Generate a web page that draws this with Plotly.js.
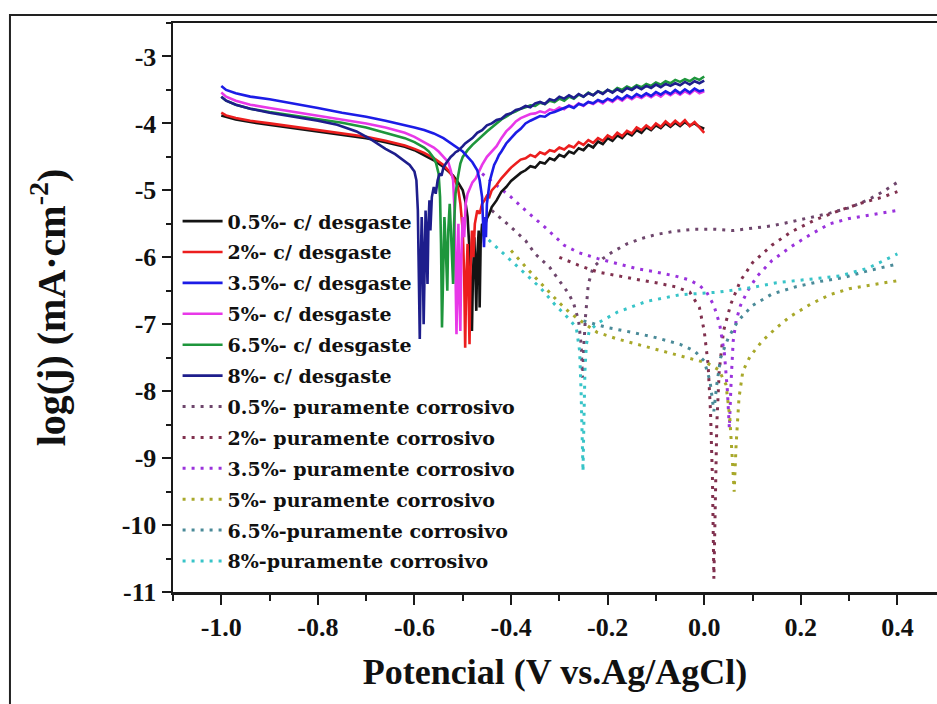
<!DOCTYPE html>
<html>
<head>
<meta charset="utf-8">
<script src="https://cdn.plot.ly/plotly-3.0.1.min.js"></script>
<style>
  html, body { margin: 0; padding: 0; background: #fff; }
  #chart { width: 937px; height: 704px; }
</style>
</head>
<body>
<div id="chart"></div>
<script>
// Polarization curves: [potential (V vs Ag/AgCl), log(j)]
// --- with wear (c/ desgaste) ---
const wear05 = [[-1.0,-3.88],[-0.99,-3.9],[-0.97,-3.94],[-0.94,-3.98],[-0.9,-4.02],[-0.85,-4.07],[-0.8,-4.12],[-0.75,-4.17],[-0.7,-4.22],[-0.66,-4.28],[-0.62,-4.35],[-0.6,-4.4],[-0.58,-4.47],[-0.56,-4.55],[-0.54,-4.65],[-0.52,-4.78],[-0.51,-4.88],[-0.5,-5.0],[-0.495,-5.15],[-0.49,-5.4],[-0.486,-5.9],[-0.483,-6.5],[-0.481,-7.1],[-0.479,-6.3],[-0.476,-5.7],[-0.474,-6.2],[-0.472,-6.8],[-0.47,-6.0],[-0.467,-5.6],[-0.465,-6.75],[-0.463,-5.8],[-0.46,-5.5],[-0.455,-5.55],[-0.45,-5.42],[-0.445,-5.35],[-0.44,-5.25],[-0.43,-5.15],[-0.42,-5.02],[-0.41,-4.95],[-0.4,-4.86],[-0.39,-4.8],[-0.38,-4.74],[-0.37,-4.7],[-0.36,-4.64],[-0.35,-4.66],[-0.34,-4.58],[-0.33,-4.6],[-0.32,-4.52],[-0.31,-4.55],[-0.3,-4.47],[-0.29,-4.5],[-0.28,-4.42],[-0.27,-4.45],[-0.26,-4.37],[-0.25,-4.4],[-0.24,-4.32],[-0.23,-4.36],[-0.22,-4.27],[-0.21,-4.31],[-0.2,-4.22],[-0.19,-4.26],[-0.18,-4.18],[-0.17,-4.22],[-0.16,-4.14],[-0.15,-4.18],[-0.14,-4.1],[-0.13,-4.14],[-0.12,-4.06],[-0.11,-4.1],[-0.1,-4.03],[-0.09,-4.07],[-0.08,-4.0],[-0.07,-4.05],[-0.06,-3.99],[-0.05,-4.04],[-0.04,-3.98],[-0.03,-4.03],[-0.02,-4.0],[-0.01,-4.05],[0.0,-4.08]];
const wear2 = [[-1.0,-3.84],[-0.99,-3.88],[-0.97,-3.92],[-0.94,-3.96],[-0.9,-4.0],[-0.85,-4.05],[-0.8,-4.1],[-0.75,-4.15],[-0.7,-4.2],[-0.66,-4.26],[-0.62,-4.33],[-0.6,-4.38],[-0.58,-4.44],[-0.56,-4.52],[-0.54,-4.62],[-0.53,-4.7],[-0.52,-4.8],[-0.51,-4.95],[-0.505,-5.2],[-0.5,-5.6],[-0.497,-6.3],[-0.495,-7.35],[-0.493,-6.4],[-0.49,-5.8],[-0.488,-6.6],[-0.486,-7.3],[-0.484,-6.2],[-0.481,-5.6],[-0.478,-6.0],[-0.475,-5.5],[-0.47,-5.3],[-0.465,-5.35],[-0.46,-5.2],[-0.455,-5.15],[-0.45,-5.08],[-0.445,-5.1],[-0.44,-5.0],[-0.43,-4.92],[-0.42,-4.82],[-0.41,-4.74],[-0.4,-4.66],[-0.39,-4.6],[-0.38,-4.54],[-0.37,-4.52],[-0.36,-4.47],[-0.35,-4.5],[-0.34,-4.43],[-0.33,-4.46],[-0.32,-4.4],[-0.31,-4.42],[-0.3,-4.36],[-0.29,-4.39],[-0.28,-4.33],[-0.27,-4.36],[-0.26,-4.28],[-0.25,-4.32],[-0.24,-4.25],[-0.23,-4.29],[-0.22,-4.22],[-0.21,-4.26],[-0.2,-4.18],[-0.19,-4.22],[-0.18,-4.14],[-0.17,-4.19],[-0.16,-4.11],[-0.15,-4.15],[-0.14,-4.06],[-0.13,-4.1],[-0.12,-4.03],[-0.11,-4.08],[-0.1,-4.0],[-0.09,-4.05],[-0.08,-3.97],[-0.07,-4.03],[-0.06,-3.96],[-0.05,-4.02],[-0.04,-3.95],[-0.03,-4.04],[-0.02,-3.98],[-0.01,-4.06],[0.0,-4.14]];
const wear35 = [[-1.0,-3.44],[-0.99,-3.5],[-0.97,-3.55],[-0.94,-3.6],[-0.9,-3.64],[-0.85,-3.7],[-0.8,-3.77],[-0.75,-3.84],[-0.7,-3.9],[-0.66,-3.96],[-0.62,-4.02],[-0.6,-4.06],[-0.58,-4.1],[-0.56,-4.15],[-0.54,-4.22],[-0.52,-4.32],[-0.5,-4.42],[-0.49,-4.5],[-0.48,-4.58],[-0.47,-4.7],[-0.465,-4.85],[-0.46,-5.1],[-0.458,-5.5],[-0.456,-5.85],[-0.454,-5.4],[-0.452,-5.7],[-0.45,-5.2],[-0.447,-5.0],[-0.444,-4.86],[-0.44,-4.75],[-0.435,-4.62],[-0.43,-4.55],[-0.425,-4.47],[-0.42,-4.42],[-0.41,-4.3],[-0.4,-4.22],[-0.39,-4.14],[-0.38,-4.08],[-0.37,-4.0],[-0.36,-3.96],[-0.35,-3.92],[-0.34,-3.89],[-0.33,-3.9],[-0.32,-3.85],[-0.31,-3.83],[-0.3,-3.8],[-0.29,-3.78],[-0.28,-3.74],[-0.27,-3.77],[-0.26,-3.71],[-0.25,-3.73],[-0.24,-3.68],[-0.23,-3.7],[-0.22,-3.65],[-0.21,-3.68],[-0.2,-3.63],[-0.19,-3.66],[-0.18,-3.6],[-0.17,-3.64],[-0.16,-3.58],[-0.15,-3.62],[-0.14,-3.56],[-0.13,-3.6],[-0.12,-3.55],[-0.11,-3.59],[-0.1,-3.53],[-0.09,-3.57],[-0.08,-3.52],[-0.07,-3.56],[-0.06,-3.5],[-0.05,-3.55],[-0.04,-3.49],[-0.03,-3.54],[-0.02,-3.48],[-0.01,-3.52],[0.0,-3.5]];
const wear5 = [[-1.0,-3.54],[-0.99,-3.6],[-0.97,-3.66],[-0.94,-3.72],[-0.9,-3.77],[-0.85,-3.83],[-0.8,-3.88],[-0.75,-3.94],[-0.7,-4.0],[-0.66,-4.06],[-0.62,-4.14],[-0.6,-4.2],[-0.58,-4.28],[-0.56,-4.36],[-0.55,-4.42],[-0.54,-4.5],[-0.53,-4.58],[-0.525,-4.7],[-0.52,-4.85],[-0.517,-5.3],[-0.515,-6.0],[-0.513,-7.15],[-0.511,-6.2],[-0.509,-5.5],[-0.507,-6.6],[-0.505,-7.1],[-0.503,-6.0],[-0.5,-5.4],[-0.497,-5.7],[-0.494,-5.2],[-0.49,-5.05],[-0.485,-4.95],[-0.48,-4.88],[-0.473,-4.82],[-0.465,-4.7],[-0.46,-4.62],[-0.45,-4.5],[-0.44,-4.42],[-0.43,-4.34],[-0.42,-4.22],[-0.41,-4.12],[-0.4,-4.05],[-0.39,-3.97],[-0.38,-3.92],[-0.37,-3.89],[-0.36,-3.86],[-0.35,-3.85],[-0.34,-3.82],[-0.33,-3.84],[-0.32,-3.79],[-0.31,-3.81],[-0.3,-3.76],[-0.29,-3.79],[-0.28,-3.73],[-0.27,-3.76],[-0.26,-3.7],[-0.25,-3.74],[-0.24,-3.68],[-0.23,-3.71],[-0.22,-3.66],[-0.21,-3.7],[-0.2,-3.64],[-0.19,-3.68],[-0.18,-3.62],[-0.17,-3.66],[-0.16,-3.6],[-0.15,-3.64],[-0.14,-3.59],[-0.13,-3.62],[-0.12,-3.57],[-0.11,-3.61],[-0.1,-3.56],[-0.09,-3.6],[-0.08,-3.54],[-0.07,-3.58],[-0.06,-3.53],[-0.05,-3.57],[-0.04,-3.52],[-0.03,-3.56],[-0.02,-3.5],[-0.01,-3.55],[0.0,-3.52]];
const wear65 = [[-1.0,-3.6],[-0.99,-3.66],[-0.97,-3.72],[-0.94,-3.78],[-0.9,-3.83],[-0.85,-3.88],[-0.8,-3.93],[-0.75,-3.99],[-0.7,-4.06],[-0.66,-4.14],[-0.62,-4.22],[-0.6,-4.28],[-0.58,-4.36],[-0.57,-4.42],[-0.56,-4.52],[-0.555,-4.6],[-0.55,-4.75],[-0.547,-5.1],[-0.545,-5.8],[-0.543,-7.05],[-0.541,-6.1],[-0.538,-5.4],[-0.535,-5.9],[-0.532,-6.5],[-0.53,-5.6],[-0.527,-5.2],[-0.524,-5.7],[-0.52,-6.4],[-0.518,-5.5],[-0.515,-5.05],[-0.51,-4.8],[-0.505,-4.6],[-0.5,-4.5],[-0.49,-4.4],[-0.48,-4.32],[-0.47,-4.25],[-0.46,-4.18],[-0.45,-4.12],[-0.44,-4.06],[-0.43,-4.0],[-0.42,-3.94],[-0.41,-3.9],[-0.4,-3.85],[-0.39,-3.82],[-0.38,-3.78],[-0.37,-3.76],[-0.36,-3.73],[-0.35,-3.74],[-0.34,-3.69],[-0.33,-3.71],[-0.32,-3.66],[-0.31,-3.68],[-0.3,-3.63],[-0.29,-3.66],[-0.28,-3.6],[-0.27,-3.63],[-0.26,-3.57],[-0.25,-3.6],[-0.24,-3.54],[-0.23,-3.58],[-0.22,-3.52],[-0.21,-3.55],[-0.2,-3.5],[-0.19,-3.53],[-0.18,-3.47],[-0.17,-3.5],[-0.16,-3.45],[-0.15,-3.48],[-0.14,-3.43],[-0.13,-3.46],[-0.12,-3.41],[-0.11,-3.44],[-0.1,-3.39],[-0.09,-3.42],[-0.08,-3.37],[-0.07,-3.4],[-0.06,-3.35],[-0.05,-3.38],[-0.04,-3.34],[-0.03,-3.37],[-0.02,-3.32],[-0.01,-3.35],[0.0,-3.3]];
const wear8 = [[-1.0,-3.6],[-0.99,-3.66],[-0.97,-3.72],[-0.94,-3.78],[-0.9,-3.84],[-0.85,-3.9],[-0.8,-3.96],[-0.76,-4.02],[-0.72,-4.12],[-0.69,-4.24],[-0.66,-4.38],[-0.64,-4.46],[-0.62,-4.56],[-0.61,-4.62],[-0.6,-4.72],[-0.596,-4.85],[-0.593,-5.3],[-0.591,-6.2],[-0.589,-7.22],[-0.587,-6.1],[-0.585,-5.4],[-0.583,-5.9],[-0.581,-7.0],[-0.579,-6.2],[-0.577,-5.3],[-0.575,-5.8],[-0.573,-6.4],[-0.571,-5.5],[-0.569,-5.15],[-0.567,-5.6],[-0.564,-5.1],[-0.56,-4.95],[-0.556,-5.05],[-0.552,-4.85],[-0.548,-4.75],[-0.544,-4.78],[-0.54,-4.66],[-0.535,-4.6],[-0.53,-4.55],[-0.525,-4.5],[-0.52,-4.47],[-0.515,-4.43],[-0.51,-4.41],[-0.505,-4.38],[-0.5,-4.34],[-0.495,-4.3],[-0.49,-4.27],[-0.485,-4.24],[-0.48,-4.22],[-0.47,-4.14],[-0.46,-4.1],[-0.45,-4.03],[-0.44,-4.0],[-0.43,-3.95],[-0.42,-3.93],[-0.41,-3.87],[-0.4,-3.85],[-0.39,-3.8],[-0.38,-3.78],[-0.37,-3.74],[-0.36,-3.76],[-0.35,-3.7],[-0.34,-3.68],[-0.33,-3.71],[-0.32,-3.64],[-0.31,-3.66],[-0.3,-3.6],[-0.29,-3.63],[-0.28,-3.58],[-0.27,-3.62],[-0.26,-3.56],[-0.25,-3.6],[-0.24,-3.55],[-0.23,-3.58],[-0.22,-3.52],[-0.21,-3.56],[-0.2,-3.5],[-0.19,-3.54],[-0.18,-3.49],[-0.17,-3.53],[-0.16,-3.47],[-0.15,-3.5],[-0.14,-3.45],[-0.13,-3.49],[-0.12,-3.44],[-0.11,-3.47],[-0.1,-3.42],[-0.09,-3.46],[-0.08,-3.41],[-0.07,-3.44],[-0.06,-3.4],[-0.05,-3.43],[-0.04,-3.38],[-0.03,-3.42],[-0.02,-3.37],[-0.01,-3.4],[0.0,-3.36]];

// --- purely corrosive (puramente corrosivo) ---
const corr05 = [[-0.44,-5.3],[-0.42,-5.42],[-0.4,-5.55],[-0.37,-5.75],[-0.35,-5.95],[-0.32,-6.15],[-0.3,-6.35],[-0.28,-6.55],[-0.27,-6.7],[-0.26,-6.95],[-0.255,-7.3],[-0.252,-7.8],[-0.249,-7.3],[-0.246,-6.9],[-0.24,-6.4],[-0.23,-6.15],[-0.21,-6.02],[-0.19,-5.92],[-0.16,-5.8],[-0.13,-5.72],[-0.1,-5.66],[-0.06,-5.61],[-0.02,-5.58],[0.02,-5.58],[0.06,-5.6],[0.1,-5.57],[0.14,-5.53],[0.18,-5.47],[0.22,-5.41],[0.26,-5.34],[0.3,-5.26],[0.34,-5.14],[0.37,-5.02],[0.4,-4.88]];
const corr2 = [[-0.3,-6.0],[-0.26,-6.12],[-0.22,-6.22],[-0.18,-6.28],[-0.14,-6.33],[-0.1,-6.38],[-0.06,-6.44],[-0.03,-6.52],[-0.01,-6.75],[0.0,-7.1],[0.008,-7.6],[0.013,-8.3],[0.017,-9.3],[0.02,-10.8],[0.023,-9.6],[0.026,-8.5],[0.031,-7.7],[0.04,-7.1],[0.055,-6.7],[0.075,-6.35],[0.1,-6.08],[0.14,-5.82],[0.18,-5.62],[0.23,-5.44],[0.28,-5.3],[0.33,-5.18],[0.37,-5.1],[0.4,-5.02]];
const corr35 = [[-0.46,-4.75],[-0.43,-4.92],[-0.4,-5.1],[-0.37,-5.3],[-0.33,-5.55],[-0.29,-5.82],[-0.26,-5.93],[-0.22,-6.02],[-0.18,-6.1],[-0.14,-6.17],[-0.1,-6.22],[-0.06,-6.28],[-0.03,-6.34],[-0.01,-6.42],[0.005,-6.52],[0.02,-6.72],[0.032,-7.0],[0.042,-7.45],[0.048,-8.0],[0.052,-8.55],[0.056,-7.8],[0.06,-7.25],[0.066,-6.95],[0.075,-6.72],[0.09,-6.5],[0.11,-6.28],[0.14,-6.05],[0.18,-5.84],[0.22,-5.66],[0.26,-5.5],[0.3,-5.42],[0.35,-5.36],[0.4,-5.3]];
const corr5 = [[-0.4,-5.9],[-0.35,-6.3],[-0.3,-6.68],[-0.278,-6.83],[-0.25,-6.98],[-0.222,-7.12],[-0.18,-7.22],[-0.14,-7.3],[-0.1,-7.37],[-0.05,-7.47],[-0.02,-7.53],[0.006,-7.58],[0.03,-7.68],[0.045,-7.9],[0.053,-8.4],[0.058,-9.0],[0.062,-9.5],[0.066,-8.8],[0.072,-8.1],[0.08,-7.7],[0.095,-7.48],[0.12,-7.25],[0.15,-7.05],[0.177,-6.89],[0.22,-6.7],[0.26,-6.56],[0.3,-6.47],[0.34,-6.42],[0.378,-6.37],[0.4,-6.35]];
const corr65 = [[-0.25,-6.95],[-0.2,-7.05],[-0.15,-7.12],[-0.1,-7.2],[-0.05,-7.3],[-0.02,-7.4],[0.0,-7.55],[0.012,-7.85],[0.02,-8.3],[0.026,-7.9],[0.034,-7.5],[0.05,-7.2],[0.07,-6.95],[0.1,-6.72],[0.14,-6.55],[0.19,-6.44],[0.24,-6.36],[0.29,-6.3],[0.34,-6.2],[0.4,-6.1]];
const corr8 = [[-0.46,-5.65],[-0.43,-5.85],[-0.4,-6.05],[-0.37,-6.25],[-0.34,-6.45],[-0.31,-6.7],[-0.28,-6.92],[-0.265,-7.05],[-0.258,-7.4],[-0.255,-8.0],[-0.253,-8.7],[-0.251,-9.2],[-0.249,-8.4],[-0.247,-7.7],[-0.244,-7.3],[-0.238,-7.1],[-0.22,-6.98],[-0.18,-6.82],[-0.12,-6.66],[-0.05,-6.56],[0.03,-6.52],[0.1,-6.45],[0.15,-6.38],[0.2,-6.34],[0.28,-6.28],[0.34,-6.16],[0.37,-6.06],[0.4,-5.95]];

const seriesNames = [
  '0.5%- c/ desgaste', '2%- c/ desgaste', '3.5%- c/ desgaste',
  '5%- c/ desgaste', '6.5%- c/ desgaste', '8%- c/ desgaste',
  '0.5%- puramente corrosivo', '2%- puramente corrosivo', '3.5%- puramente corrosivo',
  '5%- puramente corrosivo', '6.5%-puramente corrosivo', '8%-puramente corrosivo'
];
const seriesData = [wear05, wear2, wear35, wear5, wear65, wear8,
                    corr05, corr2, corr35, corr5, corr65, corr8];
const seriesColors = ['#141414', '#ec1e1e', '#1c1ce6', '#e838e8', '#1e963c', '#1e1e8c',
                      '#6e466c', '#80304e', '#9a32dc', '#a8a82a', '#4a8a98', '#38c4c8'];

// axis tick labels (plain hyphen minus)
const xTickVals = [-1.0, -0.8, -0.6, -0.4, -0.2, 0.0, 0.2, 0.4];
const xTickText = ['-1.0', '-0.8', '-0.6', '-0.4', '-0.2', '0.0', '0.2', '0.4'];
const yTickVals = [-3, -4, -5, -6, -7, -8, -9, -10, -11];
const yTickText = ['-3', '-4', '-5', '-6', '-7', '-8', '-9', '-10', '-11'];

const serif = '"Liberation Serif", "Times New Roman", serif';

const traces = seriesData.map((pts, i) => {
  const dotted = i >= 6;
  return {
    type: 'scatter',
    mode: 'lines',
    name: seriesNames[i],
    legendgroup: 'g' + i,
    x: pts.map(p => p[0]),
    y: pts.map(p => p[1]),
    line: {
      color: seriesColors[i],
      width: dotted ? 3 : 2.6,
      dash: dotted ? '3px,6px' : 'solid'
    }
  };
});

// draw the solid curves last so they sit on top, but keep legend order
const order = [6, 7, 8, 9, 10, 11, 0, 1, 3, 4, 2, 5];
const drawn = order.map(i => Object.assign({}, traces[i], {legendrank: i + 1}));

const layout = {
  width: 937,
  height: 704,
  margin: {l: 173, r: 0, t: 23, b: 112},
  paper_bgcolor: '#ffffff',
  plot_bgcolor: '#ffffff',
  showlegend: true,
  legend: {
    x: 0.006, y: 0.685, xanchor: 'left', yanchor: 'top',
    bgcolor: 'rgba(0,0,0,0)',
    traceorder: 'grouped',
    tracegroupgap: 3.2,
    itemwidth: 40,
    font: {family: '"DejaVu Serif", serif', size: 19, weight: 'bold', color: '#111'}
  },
  xaxis: {
    range: [-1.1, 0.482],
    tickvals: xTickVals, ticktext: xTickText,
    ticks: 'outside', ticklen: 10, tickwidth: 2, tickcolor: '#1a1a1a',
    minor: {dtick: 0.1, tick0: 0, ticks: 'outside', ticklen: 6, tickwidth: 2, tickcolor: '#1a1a1a'},
    showline: true, linewidth: 2.5, linecolor: '#1a1a1a', mirror: true,
    showgrid: false, zeroline: false,
    tickfont: {family: serif, size: 26, weight: 'bold', color: '#111'},
    title: {text: 'Potencial (V vs.Ag/AgCl)', standoff: 18,
            font: {family: serif, size: 36, weight: 'bold', color: '#111'}}
  },
  yaxis: {
    range: [-11, -2.5],
    tickvals: yTickVals, ticktext: yTickText,
    ticks: 'outside', ticklen: 9, tickwidth: 2, tickcolor: '#1a1a1a',
    minor: {dtick: 0.5, tick0: 0, ticks: 'outside', ticklen: 5, tickwidth: 2, tickcolor: '#1a1a1a'},
    showline: true, linewidth: 2.5, linecolor: '#1a1a1a',
    showgrid: false, zeroline: false,
    tickfont: {family: serif, size: 26, weight: 'bold', color: '#111'},
    title: {text: 'log(j) (mA·cm<sup>-2</sup>)', standoff: 44,
            font: {family: serif, size: 40, weight: 'bold', color: '#111'}}
  },
  shapes: [{
    type: 'rect', xref: 'paper', yref: 'paper',
    x0: -0.2134, x1: 1.02, y0: -0.25, y1: 1.0141,
    line: {color: '#222', width: 2}, fillcolor: 'rgba(0,0,0,0)', layer: 'above'
  }]
};

Plotly.newPlot('chart', drawn, layout, {displayModeBar: false, staticPlot: true});
</script>
</body>
</html>
